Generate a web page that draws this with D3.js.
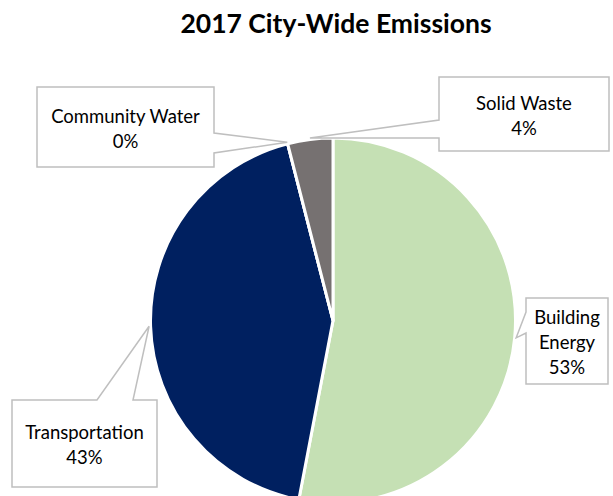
<!DOCTYPE html>
<html>
<head>
<meta charset="utf-8">
<script src="https://cdn.jsdelivr.net/npm/d3@7/dist/d3.min.js"></script>
<style>
  html, body { margin: 0; padding: 0; background: #ffffff; }
  svg { display: block; overflow: hidden; }
  text { font-family: "Lato", "Liberation Sans", sans-serif; fill: #000000; }
</style>
</head>
<body>
<svg id="chart" width="613" height="496"></svg>
<script>
// Emissions share by sector (percent), drawn clockwise from 12 o'clock
const categories = ["Building Energy", "Transportation", "Community Water", "Solid Waste"];
const values = [53, 43, 0, 4];
const colors = ["#C5E0B4", "#002060", "#A5A5A5", "#767171"];
const labelLines = [["Building", "Energy"], ["Transportation"], ["Community Water"], ["Solid Waste"]];
const title = "2017 City-Wide Emissions";

// Callout boxes: [x0, y0, x1, y1], side the pointer leaves from, and the pointer base span
const callouts = [
  { box: [526, 298, 608, 384], side: "left",  base: [312, 333] },
  { box: [12, 400, 157, 487],  side: "top",   base: [97, 133] },
  { box: [37, 87, 214, 167],   side: "right", base: [133, 153] },
  { box: [439, 77, 609, 151],  side: "left",  base: [120, 138] }
];

const svg = d3.select("#chart");
const cx = 333, cy = 320.5, radius = 182.5;

svg.append("text")
  .attr("x", 336).attr("y", 33)
  .attr("text-anchor", "middle")
  .style("font-size", "26.5px")
  .style("font-weight", "bold")
  .text(title);

const pie = d3.pie().sort(null).value(d => d)(values);
const arc = d3.arc().innerRadius(0).outerRadius(radius);

const g = svg.append("g").attr("transform", `translate(${cx},${cy})`);
g.selectAll("path.slice")
  .data(pie)
  .join("path")
  .attr("class", "slice")
  .attr("d", arc)
  .attr("fill", (d, i) => colors[i])
  .attr("stroke", "#ffffff")
  .attr("stroke-width", 3)
  .attr("stroke-linejoin", "round");

// Pointer tip sits just outside the rim at each slice's mid angle
function tipOf(d) {
  const a = (d.startAngle + d.endAngle) / 2;
  const r = radius + 1.5;
  return [cx + r * Math.sin(a), cy - r * Math.cos(a)];
}

function calloutPath(c, tip) {
  const [x0, y0, x1, y1] = c.box;
  const [b0, b1] = c.base;
  const p = d3.path();
  if (c.side === "left") {
    p.moveTo(x0, y0); p.lineTo(x1, y0); p.lineTo(x1, y1); p.lineTo(x0, y1);
    p.lineTo(x0, b1); p.lineTo(tip[0], tip[1]); p.lineTo(x0, b0); p.closePath();
  } else if (c.side === "right") {
    p.moveTo(x0, y0); p.lineTo(x1, y0); p.lineTo(x1, b0); p.lineTo(tip[0], tip[1]);
    p.lineTo(x1, b1); p.lineTo(x1, y1); p.lineTo(x0, y1); p.closePath();
  } else {
    p.moveTo(x0, y0); p.lineTo(b0, y0); p.lineTo(tip[0], tip[1]); p.lineTo(b1, y0);
    p.lineTo(x1, y0); p.lineTo(x1, y1); p.lineTo(x0, y1); p.closePath();
  }
  return p.toString();
}

const lineGap = 25;
const labels = svg.append("g");
pie.forEach((d, i) => {
  const c = callouts[i];
  labels.append("path")
    .attr("d", calloutPath(c, tipOf(d)))
    .attr("fill", "#ffffff")
    .attr("stroke", "#BFBFBF")
    .attr("stroke-width", 1.5)
    .attr("stroke-linejoin", "miter");

  const lines = labelLines[i].concat([d3.format(".0f")(values[i]) + "%"]);
  const mx = (c.box[0] + c.box[2]) / 2;
  const my = (c.box[1] + c.box[3]) / 2 + 1.5;
  const firstBase = my - (lines.length - 1) * lineGap / 2 + 6.5;
  const t = labels.append("text")
    .attr("text-anchor", "middle")
    .style("font-size", "18.5px");
  lines.forEach((s, k) => {
    t.append("tspan").attr("x", mx).attr("y", firstBase + k * lineGap).text(s);
  });
});
</script>
</body>
</html>
